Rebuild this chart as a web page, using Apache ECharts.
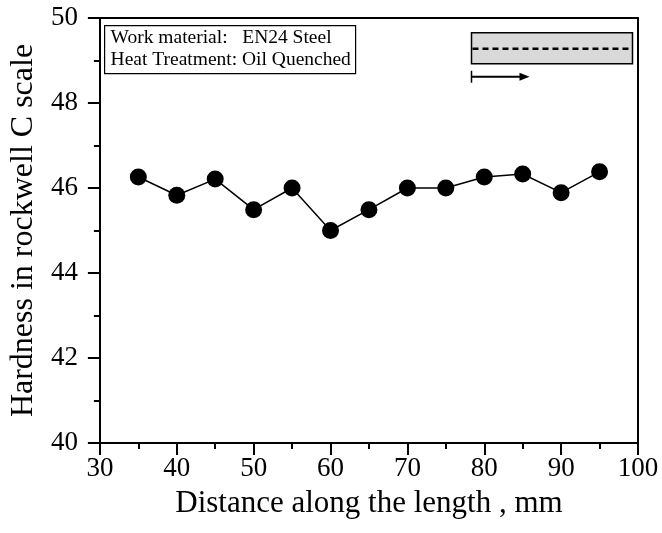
<!DOCTYPE html>
<html>
<head>
<meta charset="utf-8">
<script src="https://cdn.jsdelivr.net/npm/echarts@6/dist/echarts.min.js"></script>
<style>
  html, body { margin: 0; padding: 0; background: #fff; }
  #chart { width: 662px; height: 533px; }
</style>
</head>
<body>
<div id="chart"></div>
<script>
// distance along the length (mm) and measured hardness (HRC)
const distance = [35, 40, 45, 50, 55, 60, 65, 70, 75, 80, 85, 90, 95];
const hardness = [46.26, 45.83, 46.21, 45.49, 46.0, 45.0, 45.49, 46.0, 46.0, 46.26, 46.33, 45.89, 46.38];
const xTicks = [30, 40, 50, 60, 70, 80, 90, 100];
const yTicks = [40, 42, 44, 46, 48, 50];

const font = '"Liberation Serif", "Times New Roman", serif';
const chart = echarts.init(document.getElementById('chart'));

const axisCommon = {
  axisLine: {show: true, onZero: false, lineStyle: {color: '#000', width: 2}},
  splitLine: {show: false},
};

chart.setOption({
  animation: false,
  grid: {left: 99, top: 18, right: 24, bottom: 90},
  xAxis: [
    {
      ...axisCommon,
      type: 'value',
      min: xTicks[0],
      max: xTicks[xTicks.length - 1],
      interval: 10,
      name: 'Distance along the length , mm',
      nameLocation: 'middle',
      nameGap: 45,
      nameTextStyle: {fontFamily: font, fontSize: 31, color: '#000'},
      axisTick: {show: true, inside: false, length: 12, lineStyle: {width: 2, color: '#000'}},
      minorTick: {show: true, splitNumber: 2, length: 6, lineStyle: {width: 2, color: '#000'}},
      axisLabel: {fontFamily: font, fontSize: 27, color: '#000', margin: 12},
    },
    {
      ...axisCommon,
      type: 'value',
      position: 'top',
      min: 30, max: 100,
      axisTick: {show: false},
      axisLabel: {show: false},
    },
  ],
  yAxis: [
    {
      ...axisCommon,
      type: 'value',
      min: yTicks[0],
      max: yTicks[yTicks.length - 1],
      interval: 2,
      name: 'Hardness in rockwell C scale',
      nameLocation: 'middle',
      nameGap: 55,
      nameTextStyle: {fontFamily: font, fontSize: 32, color: '#000'},
      axisTick: {show: true, inside: false, length: 12, lineStyle: {width: 2, color: '#000'}},
      minorTick: {show: true, splitNumber: 2, length: 6, lineStyle: {width: 2, color: '#000'}},
      axisLabel: {fontFamily: font, fontSize: 27, color: '#000', margin: 22},
    },
    {
      ...axisCommon,
      type: 'value',
      position: 'right',
      min: 40, max: 50,
      axisTick: {show: false},
      axisLabel: {show: false},
    },
  ],
  series: [
    {
      type: 'line',
      data: distance.map((d, i) => [d, hardness[i]]),
      symbol: 'circle',
      symbolSize: 17,
      itemStyle: {color: '#000'},
      lineStyle: {color: '#000', width: 1.5},
    },
  ],
  graphic: [
    {
      type: 'group',
      left: 104,
      top: 25,
      children: [
        {type: 'rect', shape: {x: 0, y: 0, width: 251, height: 48},
          style: {fill: '#fff', stroke: '#000', lineWidth: 1.2}},
        {type: 'text', x: 6, y: 2,
          style: {text: 'Work material:   EN24 Steel', font: '19.5px ' + font, fill: '#000'}},
        {type: 'text', x: 6, y: 24,
          style: {text: 'Heat Treatment: Oil Quenched', font: '19.5px ' + font, fill: '#000'}},
      ],
    },
    {
      type: 'group',
      left: 469,
      top: 32,
      children: [
        {type: 'rect', shape: {x: 0, y: 0, width: 161, height: 31},
          style: {fill: '#d9d9d9', stroke: '#000', lineWidth: 1.5}},
        {type: 'line', shape: {x1: 1, y1: 16, x2: 160, y2: 16},
          style: {stroke: '#000', lineWidth: 2.5, lineDash: [6, 4]}},
        {type: 'line', shape: {x1: 0, y1: 38, x2: 0, y2: 50},
          style: {stroke: '#000', lineWidth: 1.5}},
        {type: 'line', shape: {x1: 0, y1: 44, x2: 50, y2: 44},
          style: {stroke: '#000', lineWidth: 2}},
        {type: 'polygon', shape: {points: [[48, 40], [58, 44], [48, 48]]},
          style: {fill: '#000'}},
      ],
    },
  ],
});
</script>
</body>
</html>
